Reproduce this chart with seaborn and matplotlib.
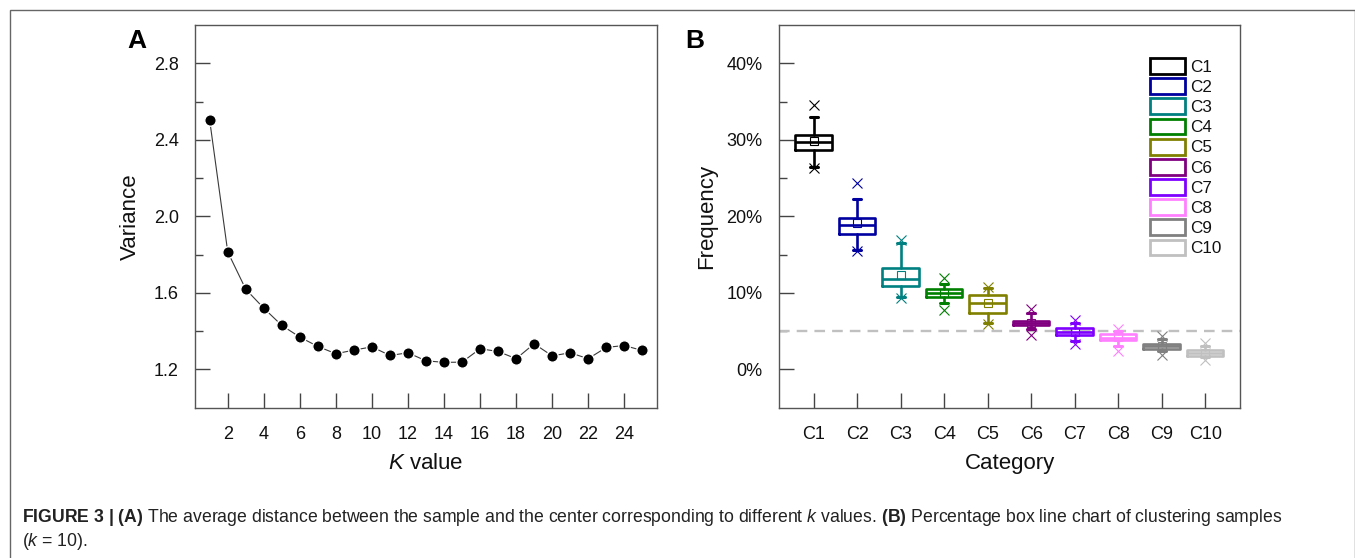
import numpy as np
import pandas as pd
import matplotlib
matplotlib.use("Agg")
import matplotlib.pyplot as plt
import seaborn as sns
from matplotlib.patches import Rectangle, Patch
from matplotlib.ticker import FixedLocator, FuncFormatter

# ---------------- data ----------------
# Panel A: average within-cluster distance for each k
k_values = list(range(1, 26))
variance = [2.501, 1.814, 1.619, 1.520, 1.430, 1.369, 1.320, 1.282, 1.301, 1.318,
            1.273, 1.287, 1.245, 1.237, 1.238, 1.308, 1.294, 1.256, 1.334, 1.271,
            1.287, 1.256, 1.315, 1.325, 1.299]

# Panel B: box statistics (percent) per category
categories = ["C1", "C2", "C3", "C4", "C5", "C6", "C7", "C8", "C9", "C10"]
q1_vals = [28.70, 17.65, 10.87, 9.52, 7.43, 5.74, 4.48, 3.78, 2.65, 1.78]
median_vals = [29.65, 18.83, 11.87, 10.00, 8.65, 6.04, 4.91, 4.17, 3.00, 2.17]
q3_vals = [30.57, 19.83, 13.26, 10.48, 9.70, 6.39, 5.35, 4.57, 3.30, 2.57]
mean_vals = [29.80, 19.10, 12.40, 10.00, 8.65, 6.10, 4.95, 4.20, 3.00, 2.20]
whisker_low = [26.40, 15.60, 9.40, 8.65, 6.13, 5.26, 3.65, 3.00, 2.35, 1.60]
whisker_high = [33.00, 22.30, 16.50, 11.20, 10.60, 7.35, 6.04, 4.96, 4.00, 3.09]
pct01_vals = [26.30, 15.50, 9.30, 7.70, 5.96, 4.52, 3.35, 2.35, 1.91, 1.17]
pct99_vals = [34.60, 24.30, 16.90, 12.00, 10.80, 7.87, 6.48, 5.26, 4.43, 3.43]
reference_level = 5.0
box_colors = ["#000000", "#0000A0", "#008080", "#008000", "#808000",
              "#800080", "#8000FF", "#FF80FF", "#808080", "#C0C0C0"]

# ---------------- style ----------------
sns.set_theme(style="ticks")
plt.rcParams["font.family"] = ["Liberation Sans", "DejaVu Sans"]
plt.rcParams["mathtext.fontset"] = "custom"
plt.rcParams["mathtext.rm"] = "Liberation Sans"
plt.rcParams["mathtext.it"] = "Liberation Sans:italic"
plt.rcParams["mathtext.bf"] = "Liberation Sans:bold"
plt.rcParams["text.color"] = "#111111"
plt.rcParams["axes.labelcolor"] = "#111111"
plt.rcParams["xtick.color"] = "#444444"
plt.rcParams["ytick.color"] = "#444444"
plt.rcParams["xtick.labelcolor"] = "#111111"
plt.rcParams["ytick.labelcolor"] = "#111111"

W, H = 1355, 558
fig = plt.figure(figsize=(W / 100, H / 100), dpi=100)
fig.patch.set_facecolor("white")

def fx(px):
    return px / W

def fy(py):
    return 1 - py / H

top_px, bot_px = 25, 407.7
axA = fig.add_axes([fx(195.3), fy(bot_px), fx(656.7 - 195.3), (bot_px - top_px) / H])
axB = fig.add_axes([fx(779.3), fy(bot_px), fx(1240 - 779.3), (bot_px - top_px) / H])

def style_axes(ax):
    for s in ax.spines.values():
        s.set_visible(True)
        s.set_color("#555555")
        s.set_linewidth(1.0)
    ax.tick_params(which="major", direction="in", length=10.5, width=1.0, labelsize=13)
    ax.tick_params(which="minor", direction="in", length=5.5, width=1.0)
    ax.tick_params(axis="x", which="both", top=False, pad=13.5)
    ax.tick_params(axis="y", which="both", right=False, pad=12)

# ---------------- panel A ----------------
dfA = pd.DataFrame({"k": k_values, "variance": variance})
sns.lineplot(data=dfA, x="k", y="variance", ax=axA, color="#3a3a3a", linewidth=0.8, zorder=2)
sns.scatterplot(data=dfA, x="k", y="variance", ax=axA, color="black", s=68,
                edgecolor="white", linewidth=1.0, zorder=3)
axA.set_xlim(0.2, 25.8)
axA.set_ylim(1.0, 3.0)
axA.xaxis.set_major_locator(FixedLocator(list(range(2, 25, 2))))
axA.yaxis.set_major_locator(FixedLocator([1.2, 1.6, 2.0, 2.4, 2.8]))
axA.yaxis.set_minor_locator(FixedLocator([1.4, 1.8, 2.2, 2.6]))
axA.yaxis.set_major_formatter(FuncFormatter(lambda v, p: f"{v:.1f}"))
style_axes(axA)
axA.set_xlabel(r"$K$ value", fontsize=16, labelpad=7)
axA.set_ylabel("Variance", fontsize=16, labelpad=9)

# ---------------- panel B ----------------
positions = np.arange(len(categories))
stats = []
for i, c in enumerate(categories):
    stats.append(dict(label=c, med=median_vals[i], q1=q1_vals[i], q3=q3_vals[i],
                      whislo=whisker_low[i], whishi=whisker_high[i], mean=mean_vals[i],
                      fliers=[pct01_vals[i], pct99_vals[i]]))
axB.axhline(reference_level, color="#C0C0C0", linewidth=1.7, dashes=(4.5, 3.0), zorder=1)
art = axB.bxp(stats, positions=positions, widths=0.84, capwidths=0.18, showmeans=True,
              manage_ticks=False,
              boxprops=dict(linewidth=1.9), medianprops=dict(linewidth=1.9),
              whiskerprops=dict(linewidth=1.9), capprops=dict(linewidth=2.2),
              meanprops=dict(marker="s", markersize=6, markerfacecolor="none",
                             markeredgewidth=0.8),
              flierprops=dict(marker="x", markersize=7.5, markeredgewidth=0.8))
for i, col in enumerate(box_colors):
    art["boxes"][i].set_color(col)
    art["medians"][i].set_color(col)
    for j in (2 * i, 2 * i + 1):
        art["whiskers"][j].set_color(col)
        art["caps"][j].set_color(col)
    art["means"][i].set_markeredgecolor(col)
    art["fliers"][i].set_markeredgecolor(col)
    art["fliers"][i].set_markerfacecolor(col)

axB.set_xlim(-0.79, 9.8)
axB.set_ylim(-5, 45)
axB.set_xticks(positions)
axB.set_xticklabels(categories)
axB.yaxis.set_major_locator(FixedLocator([0, 10, 20, 30, 40]))
axB.yaxis.set_minor_locator(FixedLocator([5, 15, 25, 35]))
axB.yaxis.set_major_formatter(FuncFormatter(lambda v, p: f"{v:.0f}%"))
style_axes(axB)
axB.set_xlabel("Category", fontsize=16, labelpad=7)
axB.set_ylabel("Frequency", fontsize=16, labelpad=7)

handles = [Patch(facecolor="white", edgecolor=c, linewidth=2.0, label=lab)
           for c, lab in zip(box_colors, categories)]
axB.legend(handles=handles, loc="upper left", bbox_to_anchor=(fx(1150), fy(58)),
           bbox_transform=fig.transFigure, frameon=False, fontsize=12.3,
           handlelength=2.05, handleheight=1.05, labelspacing=0.2, handletextpad=0.3,
           borderpad=0, borderaxespad=0)

# ---------------- panel letters, caption, border ----------------
fig.text(fx(127), fy(48), "A", fontsize=19, fontweight="bold", va="baseline", color="black")
fig.text(fx(685), fy(48), "B", fontsize=19, fontweight="bold", va="baseline", color="black")

cap1 = (r"$\mathbf{FIGURE\ 3\ |\ (A)}$ The average distance between the sample and the center "
        r"corresponding to different $k$ values. $\mathbf{(B)}$ Percentage box line chart of "
        r"clustering samples")
cap2 = r"($k$ = 10)."
t1 = fig.text(fx(22), fy(522), cap1, fontsize=12, va="baseline", color="#222222")
t2 = fig.text(fx(22), fy(546), cap2, fontsize=12, va="baseline", color="#222222")
fig.canvas.draw()
wpx = t1.get_window_extent().width
fs = 12 * (1280 - 22) / wpx
t1.set_fontsize(fs)
t2.set_fontsize(fs)

fig.add_artist(Rectangle((fx(9.5), -0.05), fx(1354.5 - 9.5), 1 - 9.5 / H + 0.05,
                         transform=fig.transFigure, fill=False, edgecolor="#666666",
                         linewidth=1.0, clip_on=False))

fig.savefig("out.png", dpi=100, facecolor="white")
